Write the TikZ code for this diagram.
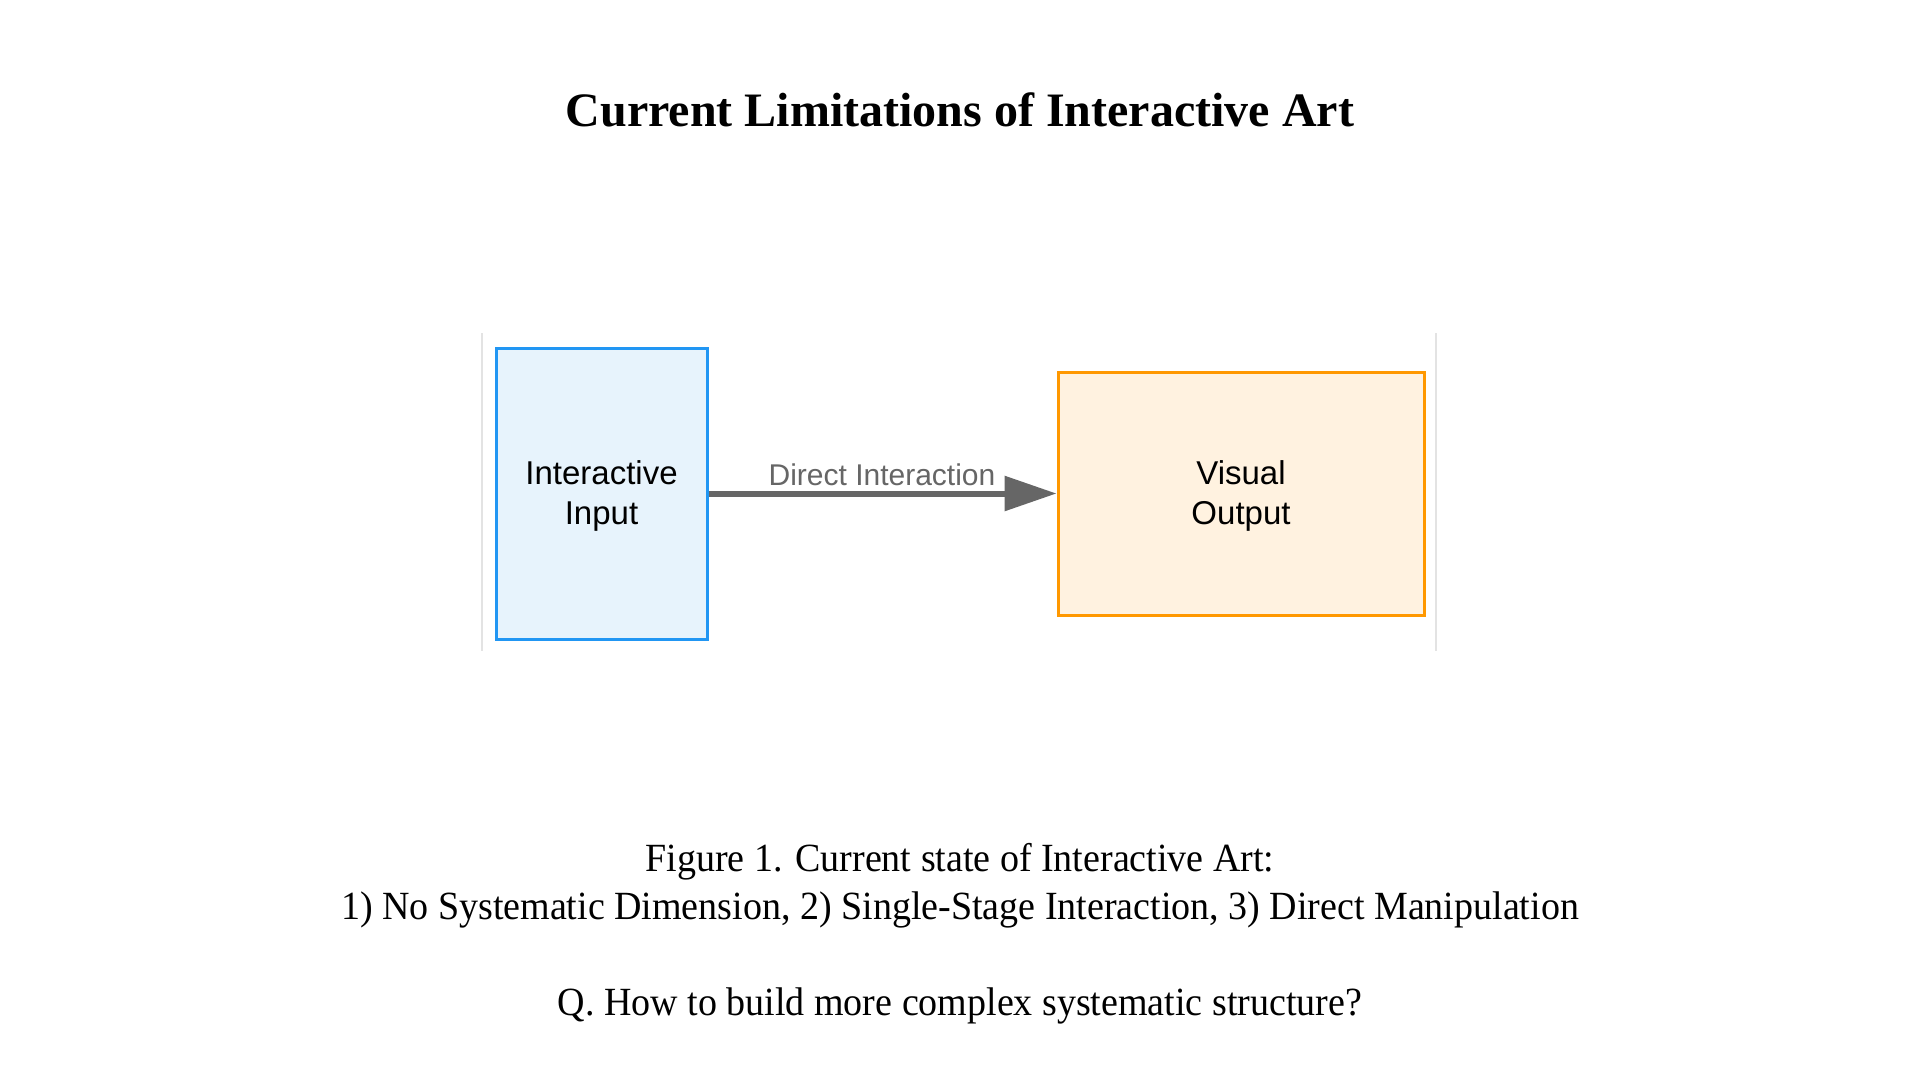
\documentclass[tikz,border=0pt]{standalone}
\usepackage{fontspec}
\setmainfont{Liberation Serif}
\newfontfamily\boxfont{Liberation Sans}
\newfontfamily\capfont[FakeStretch=0.95]{Liberation Serif}
\usetikzlibrary{arrows.meta}
\definecolor{inblue}{HTML}{2196F3}
\definecolor{inbluefill}{HTML}{E7F3FC}
\definecolor{outorange}{HTML}{FF9800}
\definecolor{outorangefill}{HTML}{FFF2E0}
\definecolor{arrowgray}{HTML}{666666}
\definecolor{framegray}{HTML}{E3E3E3}
\tikzset{
  boxtext/.style={font=\boxfont\fontsize{33}{40}\selectfont, align=center, text=black},
  inbox/.style={draw=inblue, fill=inbluefill, line width=3pt, minimum width=211pt, minimum height=291pt, inner sep=0pt},
  outbox/.style={draw=outorange, fill=outorangefill, line width=3pt, minimum width=366pt, minimum height=243pt, inner sep=0pt},
  flow/.style={draw=arrowgray, line width=6pt, -{Triangle[length=52pt,width=34pt]}},
  flowlabel/.style={font=\boxfont\fontsize{30}{36}\selectfont, text=arrowgray},
  frameline/.style={draw=framegray, line width=1.2pt},
  caption/.style={font=\capfont\fontsize{40}{48}\selectfont, align=center},
}
\begin{document}
\begin{tikzpicture}[x=1pt,y=-1pt]
\useasboundingbox[fill=white] (0,0) rectangle (1920,1080);
\node[font=\bfseries\fontsize{48}{56}\selectfont] (title) at (960,110) {Current Limitations of Interactive Art};
\coordinate (fl1) at (482,333);
\coordinate (fl2) at (482,651);
\coordinate (fr1) at (1436,333);
\coordinate (fr2) at (1436,651);
\draw[frameline] (fl1) -- (fl2);
\draw[frameline] (fr1) -- (fr2);
\node[inbox] (in) at (601.5,493.5) {};
\node[boxtext] (intext) at ([yshift=-2.5pt]in.center) {Interactive\\Input};
\node[outbox] (out) at (1241,493.5) {};
\node[boxtext] (outtext) at ([yshift=-2.5pt]out.center) {Visual\\Output};
\draw[flow] (in.east) -- (out.west);
\node[flowlabel] (lab) at (882,475) {Direct Interaction};
\node[caption] (cap) at (960,886) {Figure 1. Current state of Interactive Art:\\1) No Systematic Dimension, 2) Single-Stage Interaction, 3) Direct Manipulation};
\node[caption] (q) at (960,1006) {Q. How to build more complex systematic structure?};
\end{tikzpicture}
\end{document}
